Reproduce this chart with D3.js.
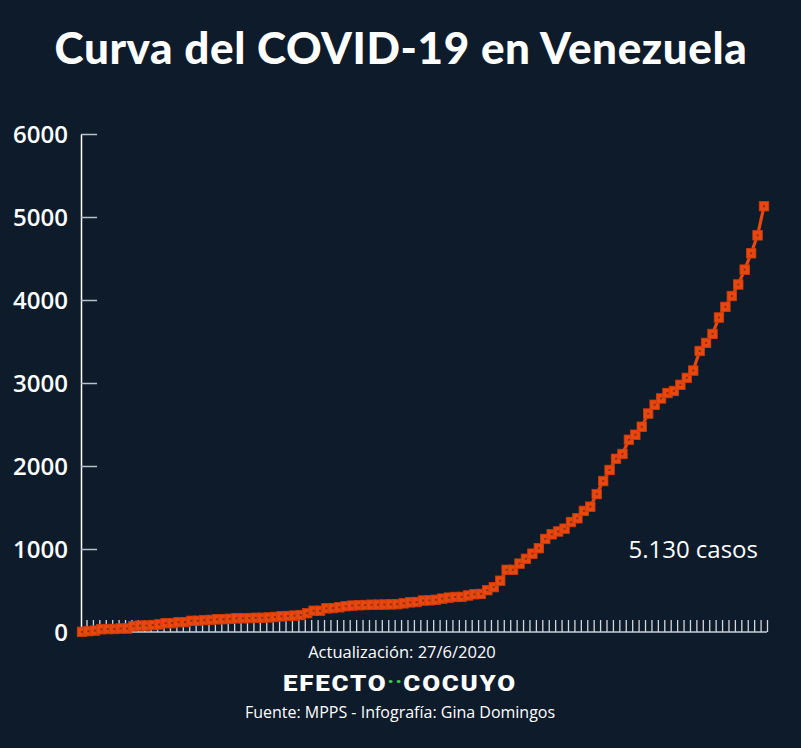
<!DOCTYPE html>
<html>
<head>
<meta charset="utf-8">
<script src="https://cdn.jsdelivr.net/npm/d3@7"></script>
<style>
  html, body { margin: 0; padding: 0; background: #0d1b2b; }
  svg { display: block; }
</style>
</head>
<body>
<div id="chart"></div>
<script>
// Cumulative confirmed cases, one per day, 13/3/2020 -> 27/6/2020
const cases = [
  // March 13-31
  2, 10, 17, 33, 36, 36, 42, 42, 70, 77, 77, 84, 91, 107, 107, 119, 119, 135, 135,
  // April
  143, 146, 153, 155, 159, 165, 166, 167, 171, 171, 175, 181, 189, 193, 197,
  204, 227, 256, 256, 285, 288, 298, 311, 318, 323, 325, 329, 329, 331, 333,
  // May
  335, 345, 357, 361, 379, 381, 388, 402, 414, 422, 423, 440, 455, 459, 504,
  541, 618, 749, 749, 824, 882, 944, 1010, 1121, 1177, 1211, 1245, 1325, 1370, 1459, 1510,
  // June 1-27
  1662, 1819, 1952, 2087, 2145, 2316, 2377, 2473, 2632, 2738, 2814, 2879, 2904, 2978,
  3062, 3150, 3386, 3483, 3591, 3789, 3917, 4048, 4187, 4366, 4563, 4779, 5130
];
const yTicks = [0, 1000, 2000, 3000, 4000, 5000, 6000];

const title = "Curva del COVID-19 en Venezuela";
const annotation = "5.130 casos";
const updated = "Actualización: 27/6/2020";
const brandLeft = "EFECTO";
const brandRight = "COCUYO";
const source = "Fuente: MPPS - Infografía: Gina Domingos";

const width = 801;
const height = 748;
const bg = "#0d1b2b";
const orange = "#e8470f";

const svg = d3.select("#chart")
  .append("svg")
  .attr("width", width)
  .attr("height", height)
  .attr("viewBox", [0, 0, width, height]);

svg.append("rect")
  .attr("width", width)
  .attr("height", height)
  .attr("fill", bg);

// Scales
const x = d3.scaleLinear().domain([0, cases.length - 1]).range([82, 764]);
// day ticks sit a little to the right of the points
const xTick = d3.scaleLinear().domain([0, cases.length - 1]).range([86.5, 767]);
const y = d3.scaleLinear().domain([0, 6000]).range([632, 134]);

// Title
svg.append("text")
  .attr("x", 401)
  .attr("y", 64)
  .attr("text-anchor", "middle")
  .style("font-family", "Lato, sans-serif")
  .style("font-weight", 900)
  .style("font-size", "44px")
  .style("letter-spacing", "0.6px")
  .attr("fill", "#ffffff")
  .text(title);

// X axis: one tick per day
const xAxis = d3.axisTop(xTick)
  .tickValues(d3.range(cases.length))
  .tickSize(12)
  .tickSizeOuter(0)
  .tickFormat("");

const gx = svg.append("g")
  .attr("transform", `translate(0,${y(0)})`)
  .call(xAxis);
gx.select(".domain").remove();
gx.selectAll(".tick line")
  .attr("stroke", "#d2d8df")
  .attr("stroke-width", 1.3);

// baseline, from the y axis to the last tick
svg.append("line")
  .attr("x1", x(0) - 1)
  .attr("x2", xTick.range()[1])
  .attr("y1", y(0))
  .attr("y2", y(0))
  .attr("stroke", "#c9d0d8")
  .attr("stroke-width", 1.5);

// Y axis with short inward ticks
const yAxis = d3.axisRight(y)
  .tickValues(yTicks.filter(d => d > 0))
  .tickSize(16)
  .tickSizeOuter(0)
  .tickFormat("");

const gy = svg.append("g")
  .attr("transform", `translate(${x(0) - 1},0)`)
  .call(yAxis);
gy.select(".domain")
  .attr("stroke", "#ffffff")
  .attr("stroke-width", 1.5);
gy.selectAll(".tick line")
  .attr("stroke", "#b8c0c8")
  .attr("stroke-width", 1.5);

svg.append("g")
  .selectAll("text")
  .data(yTicks)
  .join("text")
  .attr("x", 68)
  .attr("y", d => y(d) + 3)
  .attr("text-anchor", "end")
  .attr("dominant-baseline", "middle")
  .style("font-family", "'Open Sans', sans-serif")
  .style("font-weight", 600)
  .style("font-size", "24px")
  .attr("fill", "#ffffff")
  .text(d => d);

// Line
const line = d3.line()
  .x((d, i) => x(i))
  .y(d => y(d));

svg.append("path")
  .datum(cases)
  .attr("fill", "none")
  .attr("stroke", orange)
  .attr("stroke-width", 3.2)
  .attr("d", line);

// Square markers
const markerSize = 9.5;
const markers = svg.append("g")
  .selectAll("g")
  .data(cases)
  .join("g")
  .attr("transform", (d, i) => `translate(${x(i)},${y(d)})`);

markers.append("rect")
  .attr("x", -markerSize / 2)
  .attr("y", -markerSize / 2)
  .attr("width", markerSize)
  .attr("height", markerSize)
  .attr("fill", orange)
  .attr("stroke", "#cc3c0a")
  .attr("stroke-width", 0.8);

markers.append("rect")
  .attr("x", -1)
  .attr("y", -1)
  .attr("width", 2)
  .attr("height", 2)
  .attr("fill", "#8a3012");

// Annotation
svg.append("text")
  .attr("x", 758)
  .attr("y", 558)
  .attr("text-anchor", "end")
  .style("font-family", "'Open Sans', sans-serif")
  .style("font-size", "24px")
  .attr("fill", "#ffffff")
  .text(annotation);

// Footer
svg.append("text")
  .attr("x", 402)
  .attr("y", 658)
  .attr("text-anchor", "middle")
  .style("font-family", "'Open Sans', sans-serif")
  .style("font-size", "16.5px")
  .attr("fill", "#ffffff")
  .text(updated);

const brand = svg.append("text")
  .attr("x", 400)
  .attr("y", 691)
  .attr("text-anchor", "middle")
  .attr("textLength", 234)
  .attr("lengthAdjust", "spacingAndGlyphs")
  .style("font-family", "Roboto, sans-serif")
  .style("font-weight", 900)
  .style("font-size", "22px")
  .style("letter-spacing", "1.5px")
  .attr("fill", "#ffffff");
brand.append("tspan").text(brandLeft);
brand.append("tspan")
  .attr("fill", "#3ccf4e")
  .style("font-size", "18px")
  .style("letter-spacing", "1px")
  .attr("dy", -3)
  .text("··");
brand.append("tspan")
  .attr("dy", 3)
  .text(brandRight);

svg.append("text")
  .attr("x", 400)
  .attr("y", 718)
  .attr("text-anchor", "middle")
  .style("font-family", "'Open Sans', sans-serif")
  .style("font-size", "16px")
  .attr("fill", "#ffffff")
  .text(source);
</script>
</body>
</html>
